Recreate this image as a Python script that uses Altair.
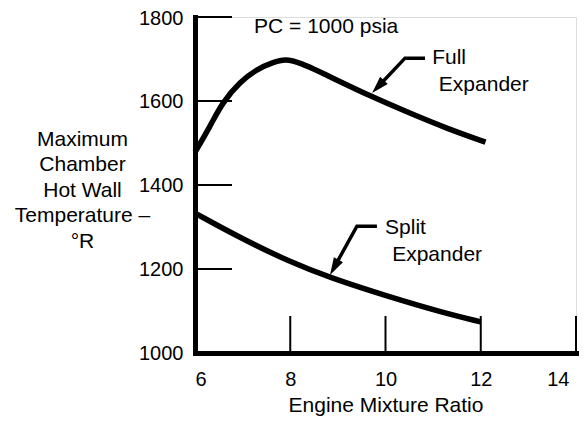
import altair as alt
import pandas as pd

FONT = "Liberation Sans"

# Curves
full_x = [6.0, 6.32, 6.57, 6.95, 7.30, 7.64, 7.89, 8.2, 8.83, 9.67, 10.51, 11.28, 12.1]
full_y = [1478, 1540, 1596, 1646, 1676, 1692, 1700, 1692, 1658, 1612, 1571, 1535, 1502]
split_x = [6.0, 6.95, 7.99, 8.84, 10.1, 11.15, 12.0]
split_y = [1333, 1274, 1217, 1179, 1133, 1098, 1074]

x_ticks = [6, 8, 10, 12, 14]
y_ticks = [1000, 1200, 1400, 1600, 1800]
x_inner_ticks = [8, 10, 12, 14]
y_inner_ticks = [1200, 1400, 1600, 1800]

# Annotations (data coordinates)
arrow_names = ["full", "full", "full", "split", "split", "split"]
arrow_x = [10.83, 10.41, 9.843, 9.82, 9.40, 8.923]
arrow_y = [1702, 1702, 1634, 1302, 1302, 1204]
head_x = [9.843, 8.923]
head_y = [1634, 1204]
head_angle = [223, 209]

label_text = ["PC = 1000 psia", "Full", "Expander", "Split", "Expander"]
label_x = [7.24, 10.98, 11.12, 9.99, 10.14]
label_y = [1776, 1702, 1638, 1298, 1233]

curves = pd.DataFrame({
    "x": full_x + split_x,
    "y": full_y + split_y,
    "series": ["Full Expander"] * len(full_x) + ["Split Expander"] * len(split_x),
    "idx": list(range(len(full_x))) + list(range(len(split_x))),
})
arrows = pd.DataFrame({"x": arrow_x, "y": arrow_y, "a": arrow_names,
                       "idx": list(range(len(arrow_x)))})
heads = pd.DataFrame({"x": head_x, "y": head_y, "ang": head_angle})
labels = pd.DataFrame({"t": label_text, "x": label_x, "y": label_y})
xt = pd.DataFrame({"x": x_inner_ticks})
yt = pd.DataFrame({"y": y_inner_ticks})

xs = alt.Scale(domain=[6, 14], nice=False, zero=False)
ys = alt.Scale(domain=[1000, 1800], nice=False, zero=False)

xaxis = alt.Axis(values=x_ticks, format="d", title="Engine Mixture Ratio",
                 ticks=False, tickSize=0, grid=False, domainWidth=5, domainColor="black",
                 domainCap="square", labelFont=FONT, labelFontSize=20, labelColor="black",
                 labelPadding=16, labelBaseline="top",
                 labelOffset={"condition": {"test": "datum.value == 14", "value": -7}, "value": 0},
                 titleFont=FONT, titleFontSize=21, titleFontWeight="normal", titleColor="black",
                 titleBaseline="middle", titleY=52)
yaxis = alt.Axis(values=y_ticks, format="d",
                 title=["Maximum", "Chamber", "Hot Wall", "Temperature \u2013", "\u00b0R"],
                 ticks=False, tickSize=0, grid=False, domainWidth=5, domainColor="black",
                 domainCap="square", labelFont=FONT, labelFontSize=20, labelColor="black",
                 labelPadding=12,
                 labelOffset={"condition": {"test": "datum.value == 1800", "value": 1.5}, "value": 0},
                 titleFont=FONT, titleFontSize=21, titleFontWeight="normal", titleColor="black",
                 titleAngle=0, titleAlign="center", titleBaseline="middle",
                 titleX=-113, titleY=122, titleLineHeight=25.5)

base_curves = alt.Chart(curves).mark_line(
    color="black", strokeWidth=5.5, interpolate="basis"
).encode(
    x=alt.X("x:Q", scale=xs, axis=xaxis),
    y=alt.Y("y:Q", scale=ys, axis=yaxis),
    detail="series:N",
    order="idx:Q",
)

ytick_rules = alt.Chart(yt).mark_rule(color="black", strokeWidth=2).encode(
    y=alt.Y("y:Q", scale=ys), x=alt.value(0), x2=alt.value(37)
)
xtick_rules = alt.Chart(xt).mark_rule(color="black", strokeWidth=2).encode(
    x=alt.X("x:Q", scale=xs), y=alt.value(336), y2=alt.value(299)
)

arrow_lines = alt.Chart(arrows).mark_line(color="black", strokeWidth=3.5).encode(
    x=alt.X("x:Q", scale=xs), y=alt.Y("y:Q", scale=ys), detail="a:N", order="idx:Q"
)
arrow_heads = alt.Chart(heads).mark_point(
    shape="M0,-1L0.6,1L-0.6,1Z", filled=True, color="black", opacity=1, size=300
).encode(
    x=alt.X("x:Q", scale=xs), y=alt.Y("y:Q", scale=ys),
    angle=alt.Angle("ang:Q", scale=None),
)

texts = alt.Chart(labels).mark_text(
    font=FONT, fontSize=21, color="black", align="left", baseline="middle"
).encode(
    x=alt.X("x:Q", scale=xs), y=alt.Y("y:Q", scale=ys), text="t:N"
)

chart = alt.layer(
    base_curves, ytick_rules, xtick_rules, arrow_lines, arrow_heads, texts
).properties(
    width=381, height=336,
    autosize=alt.AutoSizeParams(type="none"),
    padding={"left": 187, "top": 9, "right": 4, "bottom": 63},
).configure_view(stroke=None).configure(background="white")

chart.save("out.html", embed_options={"renderer": "svg", "actions": False})
